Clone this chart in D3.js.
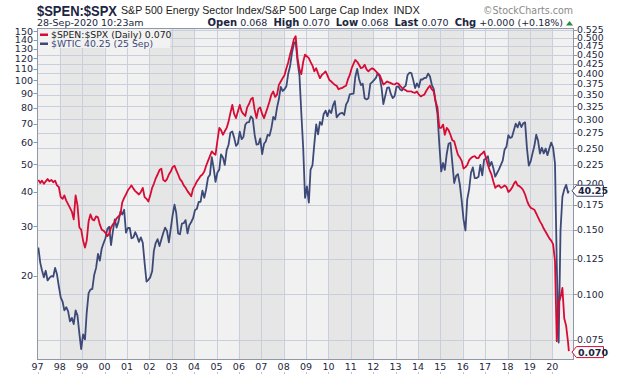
<!DOCTYPE html>
<html>
<head>
<meta charset="utf-8">
<script src="https://cdn.jsdelivr.net/npm/d3@7"></script>
<style>
  body { margin: 0; background: #fff; }
  svg { display: block; }
</style>
</head>
<body>
<svg id="chart" width="620" height="376"></svg>
<script>
// monthly values, Jan 1997 .. Sep 2020
const spenSpx = [
  0.205,0.201,0.204,0.200,0.203,0.206,0.203,0.205,0.202,0.204,0.198,0.196, // 97
  0.184,0.182,0.186,0.180,0.176,0.172,0.168,0.160,0.186,0.175,0.152,0.150, // 98
  0.140,0.134,0.140,0.158,0.165,0.160,0.159,0.163,0.162,0.155,0.150,0.149, // 99
  0.147,0.144,0.146,0.152,0.155,0.157,0.161,0.163,0.165,0.178,0.183,0.187, // 00
  0.192,0.195,0.198,0.194,0.191,0.189,0.187,0.190,0.195,0.184,0.182,0.179, // 01
  0.186,0.195,0.200,0.207,0.212,0.218,0.220,0.205,0.203,0.206,0.212,0.216, // 02
  0.222,0.224,0.218,0.212,0.206,0.203,0.198,0.195,0.191,0.188,0.185,0.194, // 03
  0.198,0.203,0.206,0.210,0.212,0.216,0.224,0.231,0.238,0.245,0.242,0.240, // 04
  0.262,0.284,0.280,0.272,0.278,0.284,0.295,0.312,0.328,0.310,0.302,0.315, // 05
  0.328,0.315,0.310,0.306,0.323,0.330,0.340,0.343,0.318,0.302,0.320,0.323, // 06
  0.310,0.302,0.312,0.323,0.335,0.350,0.357,0.345,0.350,0.372,0.380,0.388, // 07
  0.395,0.413,0.428,0.450,0.470,0.495,0.505,0.440,0.410,0.398,0.430,0.450, // 08
  0.445,0.440,0.430,0.420,0.405,0.413,0.400,0.388,0.396,0.400,0.405,0.395, // 09
  0.384,0.380,0.376,0.372,0.370,0.362,0.364,0.365,0.368,0.370,0.385,0.396, // 10
  0.413,0.425,0.435,0.430,0.422,0.413,0.415,0.422,0.410,0.405,0.410,0.413, // 11
  0.410,0.405,0.400,0.396,0.385,0.373,0.376,0.380,0.378,0.376,0.374,0.373, // 12
  0.376,0.375,0.370,0.365,0.362,0.360,0.357,0.357,0.357,0.355,0.354,0.357, // 13
  0.350,0.346,0.348,0.350,0.358,0.365,0.370,0.362,0.357,0.335,0.323,0.284, // 14
  0.284,0.290,0.272,0.284,0.280,0.272,0.263,0.261,0.250,0.240,0.236,0.231, // 15
  0.220,0.222,0.225,0.232,0.235,0.237,0.238,0.235,0.235,0.240,0.242,0.245, // 16
  0.235,0.225,0.218,0.212,0.203,0.195,0.197,0.198,0.195,0.196,0.198,0.196, // 17
  0.190,0.192,0.195,0.200,0.203,0.198,0.197,0.195,0.192,0.187,0.180,0.175, // 18
  0.172,0.171,0.170,0.166,0.162,0.158,0.155,0.151,0.148,0.145,0.142,0.140, // 19
  0.137,0.123,0.0745,0.095,0.098,0.104,0.086,0.082,0.074                   // 20
];
const wtic = [
  25.2,22.2,20.9,19.7,20.8,19.2,19.6,19.9,19.8,21.3,20.2,18.3,   // 97
  16.7,16.1,15.0,15.4,14.9,13.7,14.1,13.4,15.0,14.4,12.4,10.9,   // 98
  12.3,11.8,14.7,17.3,17.8,17.9,20.1,21.3,23.9,22.6,25.0,26.1,   // 99
  27.2,29.4,29.9,25.7,28.8,31.8,29.7,31.2,33.9,33.1,34.4,28.5,   // 00
  29.6,29.6,27.2,27.4,28.6,27.6,26.4,27.4,26.2,22.2,19.0,19.3,   // 01
  19.7,20.7,24.5,26.2,27.0,25.5,26.9,28.4,29.7,28.9,26.3,29.4,   // 02
  32.9,35.9,33.5,28.3,28.1,30.7,30.8,31.6,28.3,30.3,31.1,32.1,   // 03
  34.3,34.7,36.7,36.7,40.3,38.0,40.7,44.9,45.9,53.1,48.5,43.3,   // 04
  46.8,48.0,54.3,53.0,49.8,56.3,58.7,65.0,65.6,62.4,58.3,59.4,   // 05
  65.5,61.6,62.7,69.4,70.8,70.9,74.4,73.0,63.8,58.9,59.1,62.0,   // 06
  54.5,59.3,60.4,63.9,63.4,67.5,74.1,72.4,79.9,85.8,94.8,91.7,   // 07
  93.0,95.4,105.5,112.6,125.4,135.0,138.0,116.7,104.1,76.6,57.3,38.0, // 08
  41.7,36.5,47.9,49.6,59.0,69.6,64.1,71.0,69.4,75.7,78.0,74.5,   // 09
  78.3,76.4,81.2,84.3,73.7,75.3,76.3,76.6,75.2,81.9,84.3,89.2,   // 10
  89.6,89.7,102.9,110.0,101.3,96.3,97.3,86.3,85.5,86.3,97.2,98.6, // 11
  100.3,102.2,106.2,103.3,94.7,82.3,87.9,94.1,94.5,89.5,86.5,87.9, // 12
  94.8,95.3,92.9,92.0,94.5,95.8,104.6,106.6,106.3,100.5,93.9,97.6, // 13
  94.6,100.8,100.8,102.1,102.2,105.8,103.6,96.5,93.2,84.4,75.8,59.3, // 14
  47.2,50.6,47.8,54.5,59.3,59.8,50.9,42.9,45.5,46.2,42.4,37.2,   // 15
  31.7,29.0,37.5,40.8,46.7,48.8,44.7,44.7,45.2,49.8,45.7,52.0,   // 16
  52.5,53.5,49.3,51.1,48.5,45.2,46.6,48.0,49.8,51.6,56.6,57.9,   // 17
  63.7,62.2,62.7,66.3,70.0,67.9,71.0,68.1,70.2,70.8,57.0,49.5,   // 18
  51.4,55.0,58.2,63.9,60.8,54.7,57.4,54.8,57.0,54.0,57.0,59.9,   // 19
  57.5,50.5,22.0,11.5,29.0,38.3,40.7,42.3,39.6                   // 20
];
const lastSpen = { date: "2020-09-28", value: 0.070 };
const lastWtic = { date: "2020-09-25", value: 40.25 };

const leftTicks = [20, 30, 40, 50, 60, 70, 80, 90, 100, 110, 120, 130, 140, 150];
const rightTicks = [0.075, 0.100, 0.125, 0.150, 0.175, 0.200, 0.225, 0.250, 0.275,
  0.300, 0.325, 0.350, 0.375, 0.400, 0.425, 0.450, 0.475, 0.500, 0.525];
const yearLabels = ["97","98","99","00","01","02","03","04","05","06","07","08",
  "09","10","11","12","13","14","15","16","17","18","19","20"];

const red = "#d80b35", blue = "#3d4a78", ink = "#1b2640";
const small = "'DejaVu Sans', Verdana, sans-serif";
const L = 37.5, R = 573.5, T = 28.5, B = 359.5;

const svg = d3.select("#chart");

const x = d3.scaleUtc()
  .domain([Date.UTC(1997, 0, 1), Date.UTC(2020, 11, 13)])
  .range([L, R]);
const yL = d3.scaleLog().domain([10, 152.3]).range([B, T + 1]);
const yR = d3.scaleLog().domain([0.0664, 0.5266]).range([B, T + 1]);

const monthDate = i => new Date(Date.UTC(1997, i, 15));
const spenData = spenSpx.map((v, i) => ({ d: monthDate(i), v }))
  .concat([{ d: new Date(lastSpen.date), v: lastSpen.value }]);
const wticData = wtic.map((v, i) => ({ d: monthDate(i), v }))
  .concat([{ d: new Date(lastWtic.date), v: lastWtic.value }]);

// plot background with 2-year bands
svg.append("rect").attr("x", L).attr("y", T).attr("width", R - L).attr("height", B - T)
  .attr("fill", "#f1f1f1");
const years = d3.range(1998, 2021);
svg.append("g").selectAll("rect")
  .data(years.filter(y => (y - 1998) % 4 === 0))
  .join("rect")
  .attr("x", y => x(Date.UTC(y, 0, 1)))
  .attr("y", T)
  .attr("width", y => x(Date.UTC(y + 2, 0, 1)) - x(Date.UTC(y, 0, 1)))
  .attr("height", B - T)
  .attr("fill", "#e6e6e6");

// grid
const grid = svg.append("g").attr("stroke", "#c8cfda").attr("stroke-width", 1);
grid.selectAll("line.v").data(years).join("line")
  .attr("x1", y => Math.round(x(Date.UTC(y, 0, 1))) + 0.5)
  .attr("x2", y => Math.round(x(Date.UTC(y, 0, 1))) + 0.5)
  .attr("y1", T).attr("y2", B);
grid.selectAll("line.h").data(rightTicks).join("line")
  .attr("x1", L).attr("x2", R)
  .attr("y1", d => Math.round(yR(d)) + 0.5)
  .attr("y2", d => Math.round(yR(d)) + 0.5);

// series
svg.append("path").datum(wticData)
  .attr("fill", "none").attr("stroke", blue).attr("stroke-width", 1.8)
  .attr("stroke-linejoin", "round")
  .attr("d", d3.line().x(d => x(d.d)).y(d => yL(d.v)));
svg.append("path").datum(spenData)
  .attr("fill", "none").attr("stroke", red).attr("stroke-width", 1.8)
  .attr("stroke-linejoin", "round")
  .attr("d", d3.line().x(d => x(d.d)).y(d => yR(d.v)));

// frame
svg.append("rect").attr("x", L).attr("y", T).attr("width", R - L).attr("height", B - T)
  .attr("fill", "none").attr("stroke", "#8e98a8");

// left axis
const la = svg.append("g").attr("font-family", small).attr("font-size", 9.5).attr("fill", ink);
la.selectAll("line").data(leftTicks).join("line")
  .attr("x1", 33.5).attr("x2", L)
  .attr("y1", d => Math.round(yL(d)) + 0.5).attr("y2", d => Math.round(yL(d)) + 0.5)
  .attr("stroke", "#8e98a8");
la.selectAll("text").data(leftTicks).join("text")
  .attr("x", 33).attr("y", d => yL(d) + 3.5)
  .attr("text-anchor", "end").text(d => d);

// right axis
const ra = svg.append("g").attr("font-family", small).attr("font-size", 9.3).attr("fill", ink);
ra.selectAll("line").data(rightTicks).join("line")
  .attr("x1", R).attr("x2", 577)
  .attr("y1", d => Math.round(yR(d)) + 0.5).attr("y2", d => Math.round(yR(d)) + 0.5)
  .attr("stroke", "#8e98a8");
ra.selectAll("text").data(rightTicks).join("text")
  .attr("x", 577).attr("y", d => yR(d) + 3.4)
  .text(d => d3.format(".3f")(d));

// bottom axis
const ba = svg.append("g").attr("font-family", small).attr("font-size", 9.5).attr("fill", ink);
ba.selectAll("text").data(yearLabels).join("text")
  .attr("x", (d, i) => x(Date.UTC(1997 + i, 0, 1)))
  .attr("y", 370).attr("text-anchor", "middle").text(d => d);
ba.selectAll("rect").data(yearLabels).join("rect")
  .attr("x", (d, i) => Math.round(x(Date.UTC(1997 + i, 0, 1))))
  .attr("y", 372).attr("width", 1).attr("height", 2).attr("fill", "#c0c0c0");

// last value tags
function tag(yv, label, color) {
  const y0 = yv - 5.5, y1 = yv + 5.5;
  svg.append("path")
    .attr("d", `M572,${yv}L576.5,${y0}H603.5V${y1}H576.5Z`)
    .attr("fill", "#fff").attr("stroke", color).attr("stroke-width", 1);
  svg.append("text").attr("x", 578).attr("y", yv + 3.7)
    .attr("font-family", small).attr("font-size", 9.5).attr("font-weight", "bold")
    .attr("fill", ink).text(label);
}
tag(yL(lastWtic.value), "40.25", blue);
tag(yR(lastSpen.value) + 1, "0.070", red);

// legend
const lg = svg.append("g").attr("font-family", small).attr("font-size", 9.3);
lg.append("rect").attr("x", L + 0.5).attr("y", T + 0.5).attr("width", 132).attr("height", 19)
  .attr("fill", "#f3f3f3").attr("opacity", 0.9);
lg.append("rect").attr("x", 40).attr("y", 33.5).attr("width", 8).attr("height", 2.5).attr("fill", red);
lg.append("rect").attr("x", 40).attr("y", 42.5).attr("width", 8).attr("height", 2.5).attr("fill", blue);
lg.append("text").attr("x", 51).attr("y", 38).attr("fill", "#222").text("$SPEN:$SPX (Daily) 0.070");
lg.append("text").attr("x", 51).attr("y", 47).attr("fill", blue).text("$WTIC 40.25 (25 Sep)");

// header
svg.append("text").attr("x", 37).attr("y", 15.5)
  .attr("font-family", "'Liberation Sans', Arial, sans-serif").attr("font-weight", "bold")
  .attr("font-size", 15).attr("fill", ink)
  .attr("textLength", 80).attr("lengthAdjust", "spacingAndGlyphs")
  .text("$SPEN:$SPX");
svg.append("text").attr("x", 121).attr("y", 14)
  .attr("font-family", "'Liberation Sans', Arial, sans-serif").attr("font-size", 11).attr("fill", "#222")
  .attr("textLength", 267).attr("lengthAdjust", "spacingAndGlyphs")
  .text("S&P 500 Energy Sector Index/S&P 500 Large Cap Index");
svg.append("text").attr("x", 393.5).attr("y", 14)
  .attr("font-family", "'Liberation Sans', Arial, sans-serif").attr("font-size", 11).attr("fill", "#222")
  .text("INDX");
svg.append("text").attr("x", 483).attr("y", 14)
  .attr("font-family", small).attr("font-size", 10).attr("fill", "#8a8a8a")
  .attr("textLength", 90).attr("lengthAdjust", "spacingAndGlyphs")
  .text("\u00a9StockCharts.com");
svg.append("text").attr("x", 37).attr("y", 26)
  .attr("font-family", small).attr("font-size", 9.5).attr("fill", ink)
  .text("28-Sep-2020 10:23am");

const quote = svg.append("text").attr("x", 563).attr("y", 26).attr("text-anchor", "end")
  .attr("font-family", small).attr("font-size", 9.5).attr("fill", ink)
  .attr("xml:space", "preserve");
[["Open", " 0.068  "], ["High", " 0.070  "], ["Low", " 0.068  "], ["Last", " 0.070  "],
 ["Chg", " +0.000 (+0.18%)"]].forEach(([k, v]) => {
  quote.append("tspan").attr("font-weight", "bold").attr("font-size", 10).text(k);
  quote.append("tspan").text(v);
});
svg.append("path").attr("d", "M566,25.5L569.5,21L573,25.5Z").attr("fill", "#2b8a3e");
</script>
</body>
</html>
